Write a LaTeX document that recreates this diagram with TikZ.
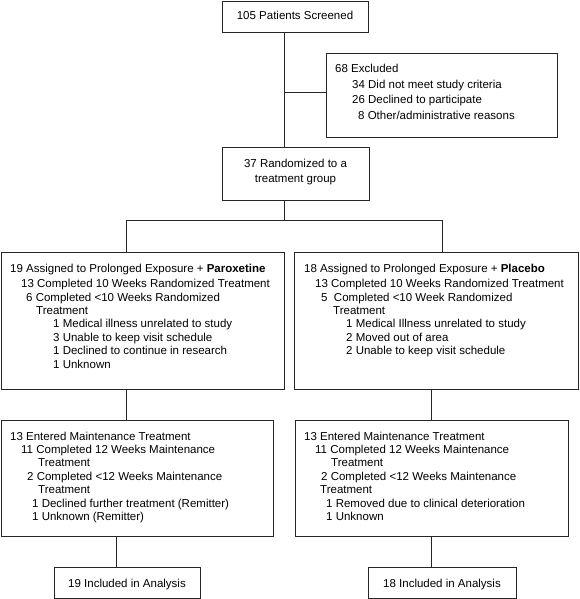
\documentclass[tikz,border=0pt]{standalone}
\usepackage{fontspec}
\setmainfont{Liberation Sans}
\newcommand{\fsz}[1]{\fontsize{11.5}{#1}\selectfont}
\begin{document}
\begin{tikzpicture}[x=1pt,y=-1pt,
  box/.style={draw=black!85, line width=0.8pt, inner sep=0pt, anchor=north west},
  txt/.style={anchor=base west, inner sep=0pt, align=left, font=\fsz{13.4}},
  ctxt/.style={anchor=base, inner sep=0pt, align=center, font=\fsz{15.7}},
  link/.style={draw=black!85, line width=0.8pt}]
\useasboundingbox (0,0) rectangle (579,599);
% boxes
\node[box, minimum width=146pt, minimum height=31pt] (scr) at (222,1) {};
\node[box, minimum width=231pt, minimum height=84pt] (exc) at (326,53) {};
\node[box, minimum width=147pt, minimum height=53pt] (rnd) at (222,147) {};
\node[box, minimum width=283pt, minimum height=137pt] (la) at (1,252) {};
\node[box, minimum width=284pt, minimum height=137pt] (ra) at (294,252) {};
\node[box, minimum width=272pt, minimum height=116pt] (lm) at (1,420) {};
\node[box, minimum width=273pt, minimum height=116pt] (rm) at (295,420) {};
\node[box, minimum width=146pt, minimum height=31pt] (lan) at (54,567) {};
\node[box, minimum width=148pt, minimum height=31pt] (ran) at (368,567) {};
% texts (multi-line nodes: base anchor = last line's baseline)
\node[ctxt] (scrt) at (295,20) {105 Patients Screened};
\node[txt, font=\fsz{15.5}] (exct) at (335,119.5) {68 Excluded\\
\hspace*{17pt}34 Did not meet study criteria\\
\hspace*{17pt}26 Declined to participate\\
\hspace*{23pt}8 Other/administrative reasons};
\node[ctxt] (rndt) at (295.5,182.7) {37 Randomized to a\\treatment group};
\node[txt] (lat) at (10,368.1) {19 Assigned to Prolonged Exposure + \textbf{Paroxetine}\\[2.3pt]
\hspace*{11pt}13 Completed 10 Weeks Randomized Treatment\\
\hspace*{16pt}6 Completed <10 Weeks Randomized\\
\hspace*{26pt}Treatment\\
\hspace*{43pt}1 Medical illness unrelated to study\\
\hspace*{43pt}3 Unable to keep visit schedule\\
\hspace*{43pt}1 Declined to continue in research\\
\hspace*{43pt}1 Unknown};
\node[txt] (rat) at (304,354.7) {18 Assigned to Prolonged Exposure + \textbf{Placebo}\\[2.3pt]
\hspace*{11pt}13 Completed 10 Weeks Randomized Treatment\\
\hspace*{17pt}5\ \ Completed <10 Week Randomized\\
\hspace*{29pt}Treatment\\
\hspace*{42pt}1 Medical Illness unrelated to study\\
\hspace*{42pt}2 Moved out of area\\
\hspace*{42pt}2 Unable to keep visit schedule};
\node[txt] (lmt) at (10,520.4) {13 Entered Maintenance Treatment\\
\hspace*{11pt}11 Completed 12 Weeks Maintenance\\
\hspace*{28pt}Treatment\\
\hspace*{17pt}2 Completed <12 Weeks Maintenance\\
\hspace*{28pt}Treatment\\
\hspace*{22pt}1 Declined further treatment (Remitter)\\
\hspace*{22pt}1 Unknown (Remitter)};
\node[txt] (rmt) at (304,520.4) {13 Entered Maintenance Treatment\\
\hspace*{11pt}11 Completed 12 Weeks Maintenance\\
\hspace*{27pt}Treatment\\
\hspace*{17pt}2 Completed <12 Weeks Maintenance\\
\hspace*{16pt}Treatment\\
\hspace*{22pt}1 Removed due to clinical deterioration\\
\hspace*{22pt}1 Unknown};
\node[ctxt] (lant) at (127,587) {19 Included in Analysis};
\node[ctxt] (rant) at (442,587) {18 Included in Analysis};
% connectors
\coordinate (c1) at (284,0);
\coordinate (br) at (284,92);
\coordinate (split) at (284,220);
\coordinate (lt) at (126,220);
\coordinate (rt) at (442,220);
\coordinate (lx) at (116.5,0);
\coordinate (rx) at (431,0);
\draw[link] (scr.south -| c1) -- (rnd.north -| c1);
\draw[link] (br) -- (exc.west |- br);
\draw[link] (rnd.south -| split) -- (split);
\draw[link] (la.north -| lt) -- (lt) -- (rt) -- (ra.north -| rt);
\draw[link] (la.south -| lt) -- (lm.north -| lt);
\draw[link] (ra.south -| rx) -- (rm.north -| rx);
\draw[link] (lm.south -| lx) -- (lan.north -| lx);
\draw[link] (rm.south -| rx) -- (ran.north -| rx);
\end{tikzpicture}
\end{document}
